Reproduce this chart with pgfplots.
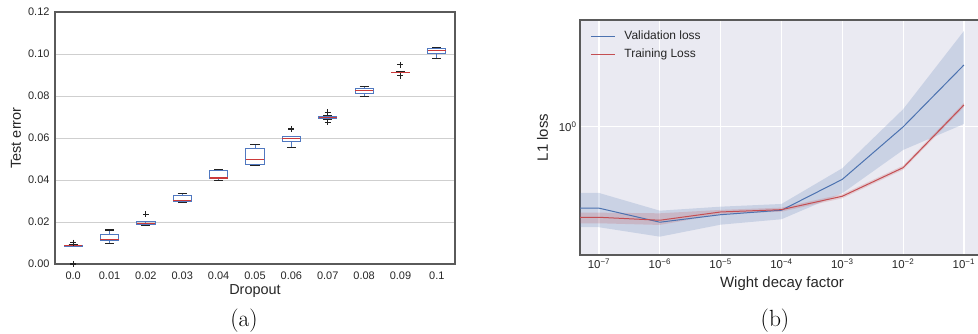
\documentclass[border=0pt]{standalone}
\usepackage{fontspec}
\newfontfamily\arial{Liberation Sans}
\usepackage{pgfplots}
\pgfplotsset{compat=1.18}
\usepgfplotslibrary{statistics,fillbetween}
\definecolor{sbblue}{HTML}{4C72B0}
\definecolor{sbred}{HTML}{C44E52}
\definecolor{sbbg}{HTML}{EAEAF2}
\definecolor{bxblue}{HTML}{5078C0}
\definecolor{medred}{HTML}{CC3A3A}
\definecolor{framegray}{HTML}{5A5A5A}
\definecolor{gridgray}{HTML}{CFCFCF}
\definecolor{textgray}{HTML}{262626}
\definecolor{capblack}{HTML}{222222}
\pgfplotsset{
  boxplot/draw/lower whisker/.code={%
    \draw[bxblue, line width=1bp]
      (boxplot box cs:\pgfplotsboxplotvalue{lower whisker},0.5) --
      (boxplot box cs:\pgfplotsboxplotvalue{lower quartile},0.5);
    \draw[capblack, line width=1.3bp]
      (boxplot whisker cs:\pgfplotsboxplotvalue{lower whisker},0) --
      (boxplot whisker cs:\pgfplotsboxplotvalue{lower whisker},1);
  },
  boxplot/draw/upper whisker/.code={%
    \draw[bxblue, line width=1bp]
      (boxplot box cs:\pgfplotsboxplotvalue{upper whisker},0.5) --
      (boxplot box cs:\pgfplotsboxplotvalue{upper quartile},0.5);
    \draw[capblack, line width=1.3bp]
      (boxplot whisker cs:\pgfplotsboxplotvalue{upper whisker},0) --
      (boxplot whisker cs:\pgfplotsboxplotvalue{upper whisker},1);
  },
  boxplot/draw/box/.code={%
    \draw[bxblue, line width=1bp]
      (boxplot box cs:\pgfplotsboxplotvalue{lower quartile},0) rectangle
      (boxplot box cs:\pgfplotsboxplotvalue{upper quartile},1);
    \draw[medred, line width=1.3bp]
      (boxplot box cs:\pgfplotsboxplotvalue{median},0) --
      (boxplot box cs:\pgfplotsboxplotvalue{median},1);
  },
  boxplot/draw/median/.code={},
}
\begin{document}
\begin{tikzpicture}[font=\arial]
% ---------------- left: boxplots ----------------
\begin{axis}[
  at={(55bp,70bp)}, anchor=south west,
  width=400bp, height=252bp, scale only axis,
  boxplot/draw direction=y,
  xmin=0.5, xmax=11.5, ymin=0, ymax=0.12,
  xtick={1,2,3,4,5,6,7,8,9,10,11},
  xticklabels={0.0,0.01,0.02,0.03,0.04,0.05,0.06,0.07,0.08,0.09,0.1},
  ytick={0,0.02,0.04,0.06,0.08,0.10,0.12},
  yticklabels={0.00,0.02,0.04,0.06,0.08,0.10,0.12},
  major tick length=0pt,
  ymajorgrids, grid style={draw=gridgray, line width=0.9bp},
  axis line style={draw=framegray, line width=1.3bp},
  tick label style={font=\arial\fontsize{11}{13}\selectfont, text=textgray},
  xticklabel style={yshift=-4bp},
  yticklabel style={xshift=-2bp},
  xlabel={Dropout}, ylabel={Test error},
  label style={font=\arial\fontsize{14.5}{17}\selectfont, text=textgray},
  xlabel style={at={(axis description cs:0.5,-0.123)}, anchor=base},
  ylabel style={at={(axis description cs:-0.0975,0.5)}, anchor=center},
  boxplot/box extend=0.5, boxplot/whisker extend=0.25,
  clip=false,
]
\addplot[boxplot prepared={draw position=1, lower whisker=0.0084, lower quartile=0.0085, median=0.0087, upper quartile=0.0089, upper whisker=0.0090},
  mark=+, mark size=3bp, mark options={capblack, line width=1.1bp}]
  table[row sep=\\, y index=0]{y\\0.0102\\0.0\\};
\addplot[boxplot prepared={draw position=2, lower whisker=0.0097, lower quartile=0.0110, median=0.0118, upper quartile=0.0141, upper whisker=0.0162}]
  coordinates {};
\addplot[boxplot prepared={draw position=3, lower whisker=0.0184, lower quartile=0.0189, median=0.0194, upper quartile=0.0200, upper whisker=0.0202},
  mark=+, mark size=3bp, mark options={capblack, line width=1.1bp}]
  table[row sep=\\, y index=0]{y\\0.0237\\};
\addplot[boxplot prepared={draw position=4, lower whisker=0.0295, lower quartile=0.0299, median=0.0303, upper quartile=0.0325, upper whisker=0.0337}]
  coordinates {};
\addplot[boxplot prepared={draw position=5, lower whisker=0.0398, lower quartile=0.0406, median=0.0410, upper quartile=0.0443, upper whisker=0.0449}]
  coordinates {};
\addplot[boxplot prepared={draw position=6, lower whisker=0.0470, lower quartile=0.0473, median=0.0498, upper quartile=0.0552, upper whisker=0.0568}]
  coordinates {};
\addplot[boxplot prepared={draw position=7, lower whisker=0.0554, lower quartile=0.0584, median=0.0597, upper quartile=0.0606, upper whisker=0.0608},
  mark=+, mark size=3bp, mark options={capblack, line width=1.1bp}]
  table[row sep=\\, y index=0]{y\\0.0643\\};
\addplot[boxplot prepared={draw position=8, lower whisker=0.0691, lower quartile=0.0694, median=0.0699, upper quartile=0.0703, upper whisker=0.0706},
  mark=+, mark size=3bp, mark options={capblack, line width=1.1bp}]
  table[row sep=\\, y index=0]{y\\0.0722\\0.0675\\};
\addplot[boxplot prepared={draw position=9, lower whisker=0.0799, lower quartile=0.0814, median=0.0827, upper quartile=0.0837, upper whisker=0.0844}]
  coordinates {};
\addplot[boxplot prepared={draw position=10, lower whisker=0.0911, lower quartile=0.0912, median=0.0913, upper quartile=0.0914, upper whisker=0.0915},
  mark=+, mark size=3bp, mark options={capblack, line width=1.1bp}]
  table[row sep=\\, y index=0]{y\\0.0948\\0.0897\\};
\addplot[boxplot prepared={draw position=11, lower whisker=0.0978, lower quartile=0.1001, median=0.1016, upper quartile=0.1024, upper whisker=0.1032}]
  coordinates {};
\end{axis}
% ---------------- right: losses ----------------
\begin{axis}[
  at={(580bp,79bp)}, anchor=south west,
  width=404bp, height=235bp, scale only axis,
  xmode=log, ymode=log,
  xmin=4.87e-8, xmax=0.2138, ymin=0.285, ymax=2.85,
  xtick={1e-7,1e-6,1e-5,1e-4,1e-3,1e-2,1e-1},
  xticklabels={10\textsuperscript{−7},10\textsuperscript{−6},10\textsuperscript{−5},10\textsuperscript{−4},10\textsuperscript{−3},10\textsuperscript{−2},10\textsuperscript{−1}},
  ytick={1}, yticklabels={10\textsuperscript{0}},
  minor xtick={}, minor ytick={},
  major tick length=0pt, minor tick length=0pt,
  axis background/.style={fill=sbbg},
  grid=major, grid style={draw=white, line width=1.2bp},
  axis line style={draw=framegray, line width=1.3bp},
  tick label style={font=\arial\fontsize{11.5}{13}\selectfont, text=textgray},
  xlabel={Wight decay factor}, ylabel={L1 loss},
  label style={font=\arial\fontsize{15}{17}\selectfont, text=textgray},
  xlabel style={at={(axis description cs:0.5,-0.14)}, anchor=base},
  ylabel style={at={(axis description cs:-0.093,0.5)}, anchor=center},
  legend style={draw=none, fill=none, at={(axis description cs:0,1)}, anchor=north west,
    xshift=7bp, yshift=-7bp, font=\arial\fontsize{12}{14}\selectfont, text=textgray,
    row sep=4bp, column sep=7bp},
  legend cell align=left,
  legend image code/.code={\draw[#1, line width=1.3bp] (0bp,0bp) -- (24bp,0bp);},
]
\addplot[name path=bu, draw=none, forget plot] coordinates {(1e-8,0.5234) (1e-7,0.5234) (1e-6,0.440) (1e-5,0.4576) (1e-4,0.4699) (1e-3,0.6668) (1e-2,1.189) (1e-1,2.559)};
\addplot[name path=bl, draw=none, forget plot] coordinates {(1e-8,0.3741) (1e-7,0.3741) (1e-6,0.3411) (1e-5,0.3837) (1e-4,0.4046) (1e-3,0.522) (1e-2,0.7977) (1e-1,1.029)};
\addplot[fill=sbblue, fill opacity=0.2, draw=none, forget plot] fill between[of=bu and bl];
\addplot[sbblue, line width=1bp] coordinates {(1e-8,0.451) (1e-7,0.451) (1e-6,0.393) (1e-5,0.423) (1e-4,0.442) (1e-3,0.598) (1e-2,1.0) (1e-1,1.834)};
\addlegendentry{Validation loss}
\addplot[name path=ru, draw=none, forget plot] coordinates {(1e-8,0.4315) (1e-7,0.4315) (1e-6,0.4288) (1e-5,0.4433) (1e-4,0.4533) (1e-3,0.5169) (1e-2,0.684) (1e-1,1.264)};
\addplot[name path=rl, draw=none, forget plot] coordinates {(1e-8,0.389) (1e-7,0.389) (1e-6,0.3826) (1e-5,0.4260) (1e-4,0.4357) (1e-3,0.4969) (1e-2,0.6575) (1e-1,1.2155)};
\addplot[fill=sbred, fill opacity=0.2, draw=none, forget plot] fill between[of=ru and rl];
\addplot[sbred, line width=1bp] coordinates {(1e-8,0.4124) (1e-7,0.4124) (1e-6,0.4006) (1e-5,0.4345) (1e-4,0.4444) (1e-3,0.5068) (1e-2,0.6706) (1e-1,1.2397)};
\addlegendentry{Training Loss}
\end{axis}
\node[font=\rmfamily\fontsize{23.5}{28}\selectfont, inner sep=0pt, anchor=center] at (244bp,13bp) {(a)};
\node[font=\rmfamily\fontsize{23.5}{28}\selectfont, inner sep=0pt, anchor=center] at (775bp,13bp) {(b)};
\pgfresetboundingbox
\path[use as bounding box] (0bp,0bp) rectangle (978bp,334bp);
\end{tikzpicture}
\end{document}
